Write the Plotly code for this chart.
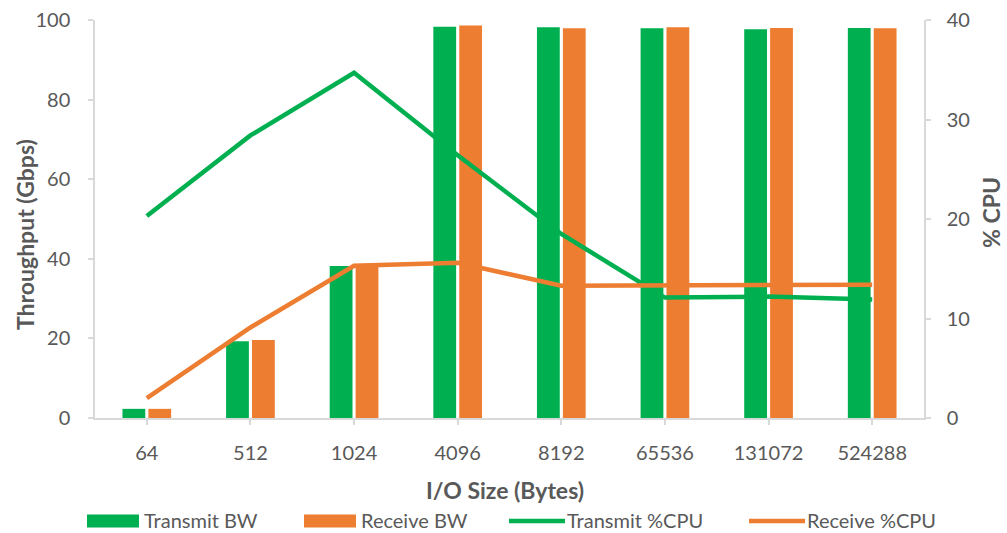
import plotly.graph_objects as go

# I/O sizes in bytes (category axis)
io_sizes = ["64", "512", "1024", "4096", "8192", "65536", "131072", "524288"]

# Throughput in Gbps (left axis)
transmit_bw = [2.3, 19.3, 38.2, 98.3, 98.2, 97.9, 97.7, 98.0]
receive_bw = [2.3, 19.6, 38.3, 98.6, 97.9, 98.2, 98.0, 97.9]

# CPU utilisation in percent (right axis)
transmit_cpu = [20.3, 28.4, 34.7, 26.4, 18.5, 12.1, 12.2, 11.9]
receive_cpu = [2.0, 9.1, 15.3, 15.6, 13.3, 13.35, 13.4, 13.4]

GREEN = "#00B050"
ORANGE = "#ED7D31"
GRID = "#D9D9D9"
TEXT = "#595959"
FONT = "Lato"

W, H = 1007, 533
ML, MR, MT, MB = 95, 83, 20, 115
PW, PH = W - ML - MR, H - MT - MB


def px(x):
    return (x - ML) / PW


def py(y):
    return (H - MB - y) / PH


fig = go.Figure()
fig.add_trace(go.Bar(x=io_sizes, y=transmit_bw, name="Transmit BW",
                     marker=dict(color=GREEN, line=dict(width=0))))
fig.add_trace(go.Bar(x=io_sizes, y=receive_bw, name="Receive BW",
                     marker=dict(color=ORANGE, line=dict(width=0))))
fig.add_trace(go.Scatter(x=io_sizes, y=transmit_cpu, name="Transmit %CPU",
                         mode="lines", yaxis="y2",
                         line=dict(color=GREEN, width=4.5)))
fig.add_trace(go.Scatter(x=io_sizes, y=receive_cpu, name="Receive %CPU",
                         mode="lines", yaxis="y2",
                         line=dict(color=ORANGE, width=4.5)))

axis_common = dict(
    showgrid=False, zeroline=False, showline=True, linecolor=GRID,
    linewidth=1.5, ticks="outside", ticklen=5, tickcolor=GRID, tickwidth=1.5,
    tickfont=dict(family=FONT, size=20, color=TEXT),
)

fig.update_layout(
    width=W, height=H,
    margin=dict(l=ML, r=MR, t=MT, b=MB, autoexpand=False),
    paper_bgcolor="white", plot_bgcolor="white",
    barmode="group", bargap=0.5, bargroupgap=0.12,
    showlegend=False,
    xaxis=dict(type="category", range=[-0.5, len(io_sizes) - 0.5],
               ticklabelstandoff=11, **axis_common),
    yaxis=dict(range=[0, 100], tickvals=[0, 20, 40, 60, 80, 100],
               ticklabelstandoff=14, **axis_common),
    yaxis2=dict(range=[0, 40], tickvals=[0, 10, 20, 30, 40],
                overlaying="y", side="right", ticklabelstandoff=12,
                **axis_common),
)

# Axis titles
title_font = dict(family=FONT, size=23, color=TEXT, weight="bold")
fig.add_annotation(text="Throughput (Gbps)", x=px(25), y=py(235),
                   xref="paper", yref="paper", textangle=-90,
                   xanchor="center", yanchor="middle",
                   showarrow=False, font=title_font)
fig.add_annotation(text="% CPU", x=px(991), y=py(213),
                   xref="paper", yref="paper", textangle=-90,
                   xanchor="center", yanchor="middle",
                   showarrow=False, font=title_font)
fig.add_annotation(text="I/O Size (Bytes)", x=px(505), y=py(490),
                   xref="paper", yref="paper",
                   xanchor="center", yanchor="middle",
                   showarrow=False, font=title_font)

# Legend row
legend_font = dict(family=FONT, size=20, color=TEXT)
legend_y = 521
legend_items = [
    ("rect", GREEN, 87, 139, "Transmit BW", 143),
    ("rect", ORANGE, 304, 356, "Receive BW", 360),
    ("line", GREEN, 509, 565, "Transmit %CPU", 566),
    ("line", ORANGE, 749, 805, "Receive %CPU", 806),
]
for kind, color, x0, x1, label, tx in legend_items:
    if kind == "rect":
        fig.add_shape(type="rect", xref="paper", yref="paper",
                      x0=px(x0), x1=px(x1), y0=py(legend_y - 6.5),
                      y1=py(legend_y + 6.5), fillcolor=color,
                      line=dict(width=0))
    else:
        fig.add_shape(type="line", xref="paper", yref="paper",
                      x0=px(x0), x1=px(x1), y0=py(legend_y), y1=py(legend_y),
                      line=dict(color=color, width=4.5))
    fig.add_annotation(text=label, x=px(tx), y=py(legend_y - 1),
                       xref="paper", yref="paper", xanchor="left",
                       yanchor="middle", showarrow=False, borderpad=0,
                       font=legend_font)

fig.write_html("out.html")
